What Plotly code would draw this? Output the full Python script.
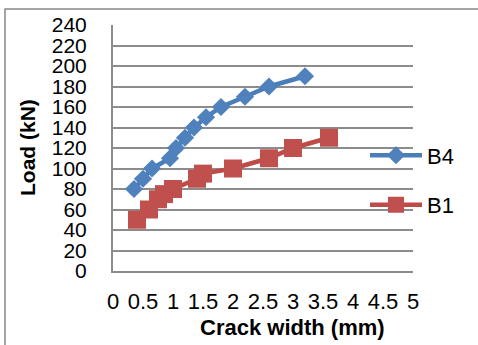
import plotly.graph_objects as go

# Load vs. crack width for two beams
b4_crack = [0.35, 0.5, 0.65, 0.95, 1.05, 1.2, 1.35, 1.55, 1.8, 2.2, 2.6, 3.2]
b4_load = [80, 90, 100, 110, 120, 130, 140, 150, 160, 170, 180, 190]

b1_crack = [0.4, 0.6, 0.75, 0.85, 1.0, 1.4, 1.5, 2.0, 2.6, 3.0, 3.6]
b1_load = [50, 60, 70, 75, 80, 90, 95, 100, 110, 120, 130]

x_ticks = [0, 0.5, 1, 1.5, 2, 2.5, 3, 3.5, 4, 4.5, 5]
y_ticks = list(range(0, 241, 20))

BLUE = "#4A7EBB"
RED = "#BE4B48"
GRID = "#8C8C8C"
FONT = "Liberation Sans"

fig = go.Figure()
fig.add_trace(go.Scatter(
    x=b4_crack, y=b4_load, name="B4", mode="lines+markers",
    line=dict(color=BLUE, width=4.5),
    marker=dict(symbol="diamond", size=14, color="#4F81BD"),
    legendgroup="b4",
))
fig.add_trace(go.Scatter(
    x=b1_crack, y=b1_load, name="B1", mode="lines+markers",
    line=dict(color=RED, width=4.5),
    marker=dict(symbol="square", size=18, color="#C0504D"),
    legendgroup="b1",
))

fig.update_layout(
    width=478, height=345,
    margin=dict(l=113, r=65, t=25, b=74),
    paper_bgcolor="white", plot_bgcolor="white",
    font=dict(family=FONT, size=21, color="black"),
    showlegend=True,
    legend=dict(
        x=0.84, y=0.555, xanchor="left", yanchor="top",
        bgcolor="rgba(0,0,0,0)", itemwidth=52,
        tracegroupgap=18, font=dict(size=22),
    ),
    xaxis=dict(
        range=[0, 5], tickvals=x_ticks, ticktext=[f"{v:g}" for v in x_ticks],
        tickangle=0, showgrid=False, zeroline=False,
        showline=True, linecolor=GRID, linewidth=2,
        ticks="", ticklabelstandoff=10,
        tickfont=dict(size=22),
    ),
    yaxis=dict(
        range=[0, 240], tickvals=y_ticks,
        showgrid=True, gridcolor=GRID, gridwidth=2,
        zeroline=False, showline=True, linecolor=GRID, linewidth=2,
        ticks="", ticklabelstandoff=20,
        tickfont=dict(size=21),
    ),
    annotations=[
        dict(text="<b>Crack width (mm)</b>", xref="paper", yref="paper",
             x=(292 - 113) / 300, y=(271 - 327) / 246,
             xanchor="center", yanchor="middle", showarrow=False,
             font=dict(size=22)),
        dict(text="<b>Load (kN)</b>", xref="paper", yref="paper",
             x=(27 - 113) / 300, y=0.5, textangle=-90,
             xanchor="center", yanchor="middle", showarrow=False,
             font=dict(size=21)),
    ],
    shapes=[
        dict(type="rect", xref="paper", yref="paper",
             x0=(5 - 113) / 300, x1=(490 - 113) / 300,
             y0=(271 - 360) / 246, y1=(271 - 9) / 246,
             line=dict(color="#888888", width=1.5), layer="below"),
    ],
)

fig.write_html("out.html")
